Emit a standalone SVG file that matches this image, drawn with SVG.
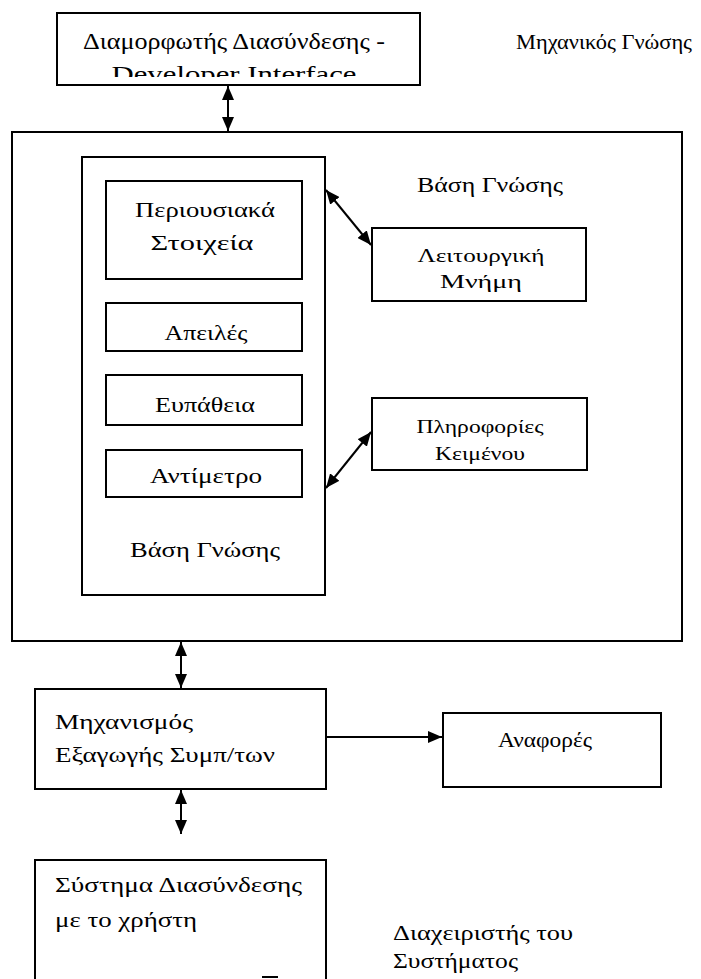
<svg xmlns="http://www.w3.org/2000/svg" width="701" height="979" viewBox="0 0 701 979">
<style>
.box{fill:#fff;stroke:#000;stroke-width:2}
.open{fill:none;stroke:#000;stroke-width:2}
.t{font-family:"Liberation Serif","Times New Roman",serif;font-size:21px;fill:#000}
.s{font-size:18px}
.c{text-anchor:middle}
.ln{stroke:#000;stroke-width:2;fill:none}
</style>
<defs>
<marker id="ah" viewBox="0 0 14 12" refX="14" refY="6" markerWidth="14" markerHeight="12" markerUnits="userSpaceOnUse" orient="auto-start-reverse">
<path d="M0,0 L14,6 L0,12 z" fill="#000"/>
</marker>
<clipPath id="clipDev"><rect x="57" y="12" width="363" height="65"/></clipPath>
</defs>
<rect width="701" height="979" fill="#fff"/>

<g id="developer-interface">
<rect class="box" x="57" y="13" width="363" height="72"/>
<text class="t c" x="234" y="49" style="font-size:23px" textLength="302" lengthAdjust="spacingAndGlyphs">Διαμορφωτής Διασύνδεσης -</text>
<text class="t c" x="234" y="82" style="font-size:23px" textLength="245" lengthAdjust="spacingAndGlyphs" clip-path="url(#clipDev)">Developer Interface</text>
</g>
<g id="knowledge-engineer">
<text class="t" x="516" y="49" style="font-size:22px" textLength="176" lengthAdjust="spacingAndGlyphs">Μηχανικός Γνώσης</text>
</g>

<g id="knowledge-base-outer">
<rect class="box" x="12" y="132" width="670" height="509"/>
<text class="t c" x="490" y="192" textLength="146" lengthAdjust="spacingAndGlyphs">Βάση Γνώσης</text>
</g>
<g id="knowledge-base-inner">
<rect class="box" x="82" y="157" width="243" height="438"/>
<text class="t c" x="205" y="557" textLength="150" lengthAdjust="spacingAndGlyphs">Βάση Γνώσης</text>
</g>
<g id="assets">
<rect class="box" x="106" y="181" width="196" height="98"/>
<text class="t c" x="205" y="217" style="font-size:22px" textLength="140" lengthAdjust="spacingAndGlyphs">Περιουσιακά</text>
<text class="t c" x="202" y="250" style="font-size:22px" textLength="103" lengthAdjust="spacingAndGlyphs">Στοιχεία</text>
</g>
<g id="threats">
<rect class="box" x="106" y="303" width="196" height="48"/>
<text class="t c" x="206" y="340" textLength="83" lengthAdjust="spacingAndGlyphs">Απειλές</text>
</g>
<g id="vulnerability">
<rect class="box" x="106" y="375" width="196" height="50"/>
<text class="t c" x="205" y="412" textLength="100" lengthAdjust="spacingAndGlyphs">Ευπάθεια</text>
</g>
<g id="countermeasure">
<rect class="box" x="106" y="450" width="196" height="47"/>
<text class="t c" x="206" y="483" textLength="112" lengthAdjust="spacingAndGlyphs">Αντίμετρο</text>
</g>
<g id="working-memory">
<rect class="box" x="372" y="228" width="214" height="73"/>
<text class="t s c" x="481" y="262" textLength="127" lengthAdjust="spacingAndGlyphs">Λειτουργική</text>
<text class="t s c" x="481" y="288" textLength="82" lengthAdjust="spacingAndGlyphs">Μνήμη</text>
</g>
<g id="text-info">
<rect class="box" x="372" y="398" width="215" height="72"/>
<text class="t s c" x="480" y="433" textLength="127" lengthAdjust="spacingAndGlyphs">Πληροφορίες</text>
<text class="t s c" x="480" y="460" textLength="90" lengthAdjust="spacingAndGlyphs">Κειμένου</text>
</g>
<g id="inference-engine">
<rect class="box" x="35" y="689" width="291" height="100"/>
<text class="t" x="55" y="729" textLength="138" lengthAdjust="spacingAndGlyphs">Μηχανισμός</text>
<text class="t" x="55" y="762" textLength="220" lengthAdjust="spacingAndGlyphs">Εξαγωγής Συμπ/των</text>
</g>
<g id="reports">
<rect class="box" x="443" y="713" width="218" height="74"/>
<text class="t c" x="545" y="747" textLength="94" lengthAdjust="spacingAndGlyphs">Αναφορές</text>
</g>
<g id="user-interface">
<path class="open" d="M35,979 V860 H326 V979"/>
<line class="ln" x1="262" y1="977" x2="278" y2="977"/>
<text class="t" x="55" y="892" textLength="247" lengthAdjust="spacingAndGlyphs">Σύστημα Διασύνδεσης</text>
<text class="t" x="55" y="927" textLength="142" lengthAdjust="spacingAndGlyphs">με το χρήστη</text>
</g>
<g id="system-admin">
<text class="t" x="393" y="940" textLength="180" lengthAdjust="spacingAndGlyphs">Διαχειριστής του</text>
<text class="t" x="393" y="968" textLength="125" lengthAdjust="spacingAndGlyphs">Συστήματος</text>
</g>

<g id="connectors">
<line class="ln" x1="228" y1="86" x2="228" y2="131" marker-start="url(#ah)" marker-end="url(#ah)"/>
<line class="ln" x1="326" y1="190" x2="371" y2="245" marker-start="url(#ah)" marker-end="url(#ah)"/>
<line class="ln" x1="326" y1="488" x2="371" y2="432" marker-start="url(#ah)" marker-end="url(#ah)"/>
<line class="ln" x1="181" y1="642" x2="181" y2="688" marker-start="url(#ah)" marker-end="url(#ah)"/>
<line class="ln" x1="326" y1="737" x2="442" y2="737" marker-end="url(#ah)"/>
<line class="ln" x1="181" y1="790" x2="181" y2="834" marker-start="url(#ah)" marker-end="url(#ah)"/>
</g>
</svg>
